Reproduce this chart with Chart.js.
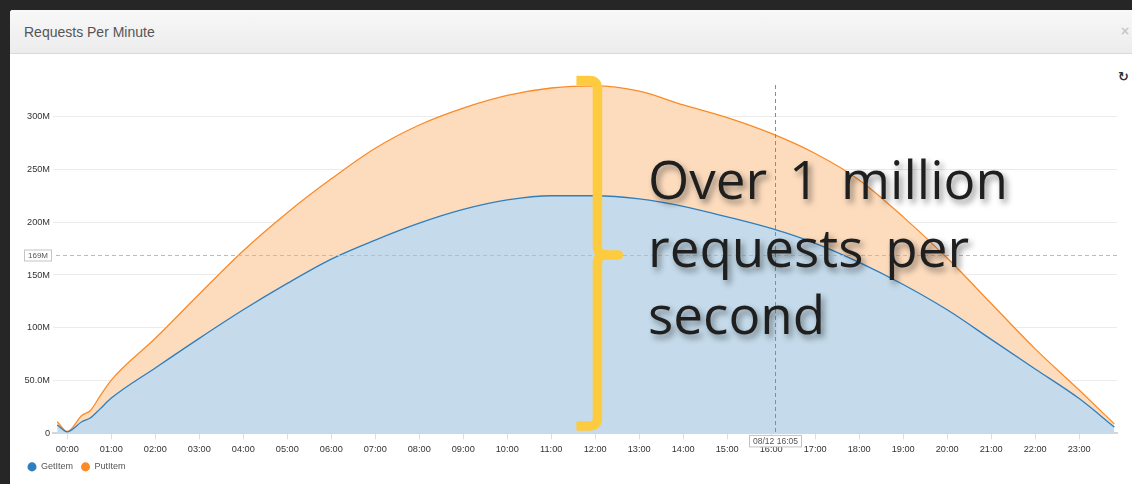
<!DOCTYPE html>
<html>
<head>
<meta charset="utf-8">
<script src="https://cdn.jsdelivr.net/npm/chart.js@4/dist/chart.umd.min.js"></script>
<style>
  html, body { margin: 0; padding: 0; background: #262626; width: 1132px; height: 484px; overflow: hidden; }
  #panel { position: absolute; left: 10px; top: 10px; width: 1122px; height: 474px; background: #fff; border-top-left-radius: 3px; }
  #head { position: absolute; left: 0; top: 0; width: 1122px; height: 43px; background: linear-gradient(#f8f8f8, #ececec); border-bottom: 1px solid #d9d9d9; border-top-left-radius: 3px; }
  #title { position: absolute; left: 14px; top: 14px; font: 14px "Liberation Sans", Arial, sans-serif; color: #555; white-space: nowrap; }
  #close { position: absolute; left: 1110px; top: 14px; font: bold 12px "DejaVu Sans", sans-serif; color: #c6c6c6; }
  #refresh { position: absolute; left: 1108px; top: 59px; font: bold 13px "DejaVu Sans", sans-serif; color: #333; }
  #wrap { position: absolute; left: 0; top: 44px; width: 1122px; height: 430px; }
</style>
</head>
<body>
<div id="panel">
  <div id="head"><div id="title">Requests Per Minute</div><div id="close">×</div></div>
  <div id="refresh">↻</div>
  <div id="wrap"><canvas id="chart" width="1122" height="430"></canvas></div>
</div>
<script>
// Time of day in hours (samples before 00:00 belong to the previous day)
const hours = [-0.23, 0, 0.33, 0.52, 0.74, 1, 2, 3, 4, 5, 6, 7, 8, 9, 10, 11, 12,
               13, 14, 15, 16, 17, 18, 19, 20, 21, 22, 23, 23.8];
// Requests per minute, in millions (PutItem is stacked on GetItem)
const getItem = [8, 1.5, 11, 14.5, 23, 33.4, 62, 90, 117, 142, 165, 183, 199, 212, 221, 225, 225,
                 222, 215, 205, 194, 180, 162, 141, 117, 89, 61, 33, 6];
const putItem = [3, 0.3, 6, 7, 12, 17, 28, 42, 56, 67, 76, 87, 93, 96, 99, 102, 104,
                 102, 96, 94, 90, 85, 78, 64, 49, 34, 19, 8, 3];
const seriesNames = ['GetItem', 'PutItem'];

const xTicks = [0, 1, 2, 3, 4, 5, 6, 7, 8, 9, 10, 11, 12, 13, 14, 15, 16, 17, 18, 19, 20, 21, 22, 23];
const xTickLabels = ['00:00', '01:00', '02:00', '03:00', '04:00', '05:00', '06:00', '07:00',
                     '08:00', '09:00', '10:00', '11:00', '12:00', '13:00', '14:00', '15:00',
                     '16:00', '17:00', '18:00', '19:00', '20:00', '21:00', '22:00', '23:00'];
const yTicks = [0, 50, 100, 150, 200, 250, 300];
const yTickLabels = ['0', '50.0M', '100M', '150M', '200M', '250M', '300M'];

// Horizontal marker line and hover cursor
const markerValue = 169;
const markerLabel = '169M';
const cursorHour = 16 + 5 / 60;
const cursorLabel = '08/12 16:05';

// Callout: brace spanning the total at midday, and its caption
const braceHour = 12.05;
const braceTop = 334;
const braceBottom = 7;
const calloutLines = ['Over 1 million', 'requests per', 'second'];

const lineColors = ['#2f7ebd', '#fb8b26'];
const fillColors = ['#c5dbeb', '#fddcbe'];

const FONT = '"Liberation Sans", Arial, Helvetica, sans-serif';

const overlay = {
  id: 'overlay',
  afterLayout(chart) {
    // legend sits slightly indented and lower than the default bottom position
    chart.legend.left = 9.5;
    chart.legend.top += 0;
  },
  afterDatasetsDraw(chart) {
    const { ctx, chartArea: a, scales: { x, y } } = chart;
    ctx.save();
    ctx.lineWidth = 1;
    // dashed marker line
    const my = Math.round(y.getPixelForValue(markerValue)) + 0.5;
    ctx.strokeStyle = '#bcbcbc';
    ctx.setLineDash([4, 3]);
    ctx.beginPath(); ctx.moveTo(a.left + 3, my); ctx.lineTo(a.right, my); ctx.stroke();
    // dashed cursor line
    const cx = Math.round(x.getPixelForValue(cursorHour)) + 0.5;
    ctx.strokeStyle = '#8c8c8c';
    ctx.beginPath(); ctx.moveTo(cx, a.top + 16); ctx.lineTo(cx, a.bottom); ctx.stroke();
    ctx.setLineDash([]);
    // marker label box
    ctx.fillStyle = '#fff';
    ctx.strokeStyle = '#c4c4c4';
    ctx.fillRect(14.5, my - 5.5, 27, 11);
    ctx.strokeRect(14.5, my - 5.5, 27, 11);
    ctx.fillStyle = '#555';
    ctx.font = '8px ' + FONT;
    ctx.textAlign = 'center';
    ctx.textBaseline = 'middle';
    ctx.fillText(markerLabel, 28, my + 0.5);
    // cursor label box
    ctx.fillStyle = '#fff';
    ctx.fillRect(cx - 26, a.bottom + 2, 52, 11.5);
    ctx.strokeRect(cx - 26, a.bottom + 2, 52, 11.5);
    ctx.fillStyle = '#555';
    ctx.font = '8.5px ' + FONT;
    ctx.fillText(cursorLabel, cx, a.bottom + 8);
    ctx.restore();
  },
  afterDraw(chart) {
    const { ctx, scales: { x, y } } = chart;
    ctx.save();
    // brace
    const bx = x.getPixelForValue(braceHour);
    const top = y.getPixelForValue(braceTop);
    const bot = y.getPixelForValue(braceBottom);
    const mid = y.getPixelForValue(markerValue);
    ctx.strokeStyle = '#fdcb3f';
    ctx.lineWidth = 9.5;
    ctx.lineJoin = 'round';
    ctx.lineCap = 'butt';
    ctx.beginPath();
    ctx.moveTo(bx - 21, top);
    ctx.lineTo(bx - 8, top);
    ctx.quadraticCurveTo(bx, top, bx, top + 8);
    ctx.lineTo(bx, mid - 8);
    ctx.quadraticCurveTo(bx, mid, bx + 9, mid);
    ctx.quadraticCurveTo(bx, mid, bx, mid + 8);
    ctx.lineTo(bx, bot - 8);
    ctx.quadraticCurveTo(bx, bot, bx - 8, bot);
    ctx.lineTo(bx - 21, bot);
    ctx.stroke();
    ctx.lineCap = 'round';
    ctx.beginPath();
    ctx.moveTo(bx + 4, mid);
    ctx.lineTo(bx + 21, mid);
    ctx.stroke();
    // caption
    ctx.font = '500 53px "Open Sans", "Noto Sans", sans-serif';
    ctx.wordSpacing = '8px';
    ctx.fillStyle = '#1f1f1f';
    ctx.textAlign = 'left';
    ctx.textBaseline = 'alphabetic';
    ctx.shadowColor = 'rgba(0,0,0,0.45)';
    ctx.shadowBlur = 6;
    ctx.shadowOffsetX = 3;
    ctx.shadowOffsetY = 4;
    const baselines = [145, 213, 280];
    calloutLines.forEach((t, i) => ctx.fillText(t, 638, baselines[i]));
    ctx.restore();
  }
};

new Chart(document.getElementById('chart'), {
  type: 'line',
  data: {
    datasets: [0, 1].map(k => ({
      label: seriesNames[k],
      data: hours.map((h, i) => ({ x: h, y: (k === 0 ? getItem : putItem)[i] })),
      borderColor: lineColors[k],
      backgroundColor: fillColors[k],
      borderWidth: 1.3,
      pointRadius: 0,
      fill: k === 0 ? 'origin' : '-1',
      cubicInterpolationMode: 'monotone'
    }))
  },
  options: {
    responsive: false,
    animation: false,
    devicePixelRatio: 1,
    layout: { padding: { left: 0, right: 15, top: 15, bottom: 2.6 } },
    plugins: {
      tooltip: { enabled: false },
      legend: {
        position: 'bottom',
        align: 'start',
        labels: {
          usePointStyle: true,
          pointStyle: 'circle',
          boxWidth: 9,
          boxHeight: 6.4,
          padding: 8,
          color: '#555',
          font: { family: FONT, size: 9 },
          generateLabels: (chart) => Chart.defaults.plugins.legend.labels.generateLabels(chart)
            .map(l => ({ ...l, fillStyle: lineColors[l.datasetIndex], strokeStyle: lineColors[l.datasetIndex], lineWidth: 0 }))
        }
      }
    },
    scales: {
      x: {
        type: 'linear',
        min: -0.325,
        max: 23.86,
        afterBuildTicks: (s) => { s.ticks = xTicks.map(v => ({ value: v })); },
        afterFit: (s) => { s.height = 21; },
        ticks: {
          color: '#333',
          font: { family: FONT, size: 9.2 },
          padding: 5,
          maxRotation: 0,
          autoSkip: false,
          callback: (v) => xTickLabels[xTicks.indexOf(v)]
        },
        grid: { drawOnChartArea: false, drawTicks: true, tickLength: 6, color: '#dedede' },
        border: { display: true, color: '#d6d6d6', width: 2 }
      },
      y: {
        stacked: true,
        min: 0,
        max: 345,
        afterBuildTicks: (s) => { s.ticks = yTicks.map(v => ({ value: v })); },
        afterFit: (s) => { s.width = 43; },
        ticks: {
          color: '#333',
          font: { family: FONT, size: 9.2 },
          padding: 3,
          callback: (v) => yTickLabels[yTicks.indexOf(v)]
        },
        grid: { drawTicks: false, color: '#ebebeb', lineWidth: 1 },
        border: { display: false }
      }
    }
  },
  plugins: [overlay]
});
</script>
</body>
</html>
